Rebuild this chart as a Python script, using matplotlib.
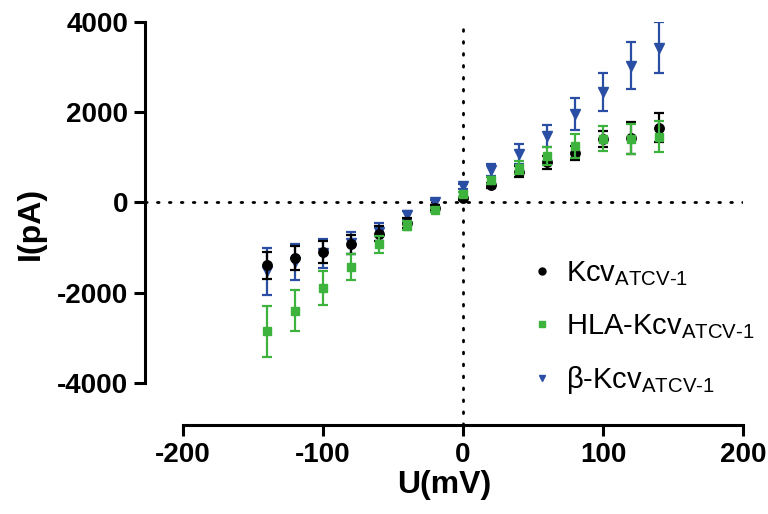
import matplotlib
matplotlib.use("Agg")
import matplotlib.pyplot as plt

plt.rcParams['font.family'] = ['Liberation Sans', 'DejaVu Sans']
plt.rcParams['mathtext.fontset'] = 'custom'
plt.rcParams['mathtext.rm'] = 'Liberation Sans'
plt.rcParams['mathtext.it'] = 'Liberation Sans:italic'
plt.rcParams['mathtext.bf'] = 'Liberation Sans:bold'

# Data
voltage = [-140, -120, -100, -80, -60, -40, -20, 0, 20, 40, 60, 80, 100, 120, 140]

kcv_mean = [-1390, -1230, -1100, -930, -690, -450, -120, 90, 380, 680, 890, 1100, 1400, 1430, 1660]
kcv_err = [300, 270, 250, 210, 160, 110, 60, 40, 60, 120, 150, 160, 180, 350, 330]

beta_mean = [-1530, -1310, -1130, -900, -650, -270, 0, 360, 720, 1070, 1470, 1960, 2450, 3030, 3430]
beta_err = [530, 400, 320, 250, 200, 90, 50, 60, 130, 220, 245, 350, 430, 520, 560]

hla_mean = [-2860, -2400, -1900, -1430, -930, -520, -170, 180, 490, 770, 1040, 1250, 1410, 1400, 1460]
hla_err = [555, 460, 370, 280, 185, 100, 50, 60, 80, 140, 200, 260, 280, 330, 350]

labels = [r'Kcv$_{\mathrm{ATCV\text{-}1}}$',
          r'HLA-Kcv$_{\mathrm{ATCV\text{-}1}}$',
          r'β-Kcv$_{\mathrm{ATCV\text{-}1}}$']

x_ticks = [-200, -100, 0, 100, 200]
y_ticks = [-4000, -2000, 0, 2000, 4000]

c_black = '#000000'
c_green = '#3db33d'
c_blue = '#2a4ea3'

fig = plt.figure(figsize=(7.68, 5.14), dpi=100)
W, H = 768, 514
ax = fig.add_axes([145 / W, (H - 425) / H, (743 - 145) / W, (425 - 22) / H])

ax.set_xlim(-227.1, 200)
ax.set_ylim(-4933, 4000)

ax.axhline(0, color='black', lw=2.0, ls=(0, (0.6, 3.7)), dash_capstyle='round', zorder=1)
ax.axvline(0, color='black', lw=2.0, ls=(0, (0.6, 3.7)), dash_capstyle='round', zorder=1)

eb_kw = dict(elinewidth=1.6, capsize=3.4, capthick=1.6, linestyle='none')
h_beta = ax.errorbar(voltage, beta_mean, yerr=beta_err, fmt='v', color=c_blue, ms=7, zorder=3, **eb_kw)
h_kcv = ax.errorbar(voltage, kcv_mean, yerr=kcv_err, fmt='o', color=c_black, ms=6.8, zorder=4, **eb_kw)
h_hla = ax.errorbar(voltage, hla_mean, yerr=hla_err, fmt='s', color=c_green, ms=6.3, zorder=5, **eb_kw)

for s in ['top', 'right']:
    ax.spines[s].set_visible(False)
for s in ['left', 'bottom']:
    ax.spines[s].set_linewidth(2.2)
ax.spines['left'].set_bounds(-4000, 4000)
ax.spines['bottom'].set_bounds(-200, 200)

ax.set_xticks(x_ticks)
ax.set_yticks(y_ticks)
ax.set_xticklabels([str(v) for v in x_ticks])
ax.set_yticklabels([str(v) for v in y_ticks])
ax.tick_params(axis='both', direction='out', length=8, width=2.2, labelsize=20, pad=4)
for t in ax.get_xticklabels() + ax.get_yticklabels():
    t.set_fontweight('bold')

ax.set_xlabel('U(mV)', fontsize=23, fontweight='bold', labelpad=2)
ax.set_ylabel('I(pA)', fontsize=23, fontweight='bold', labelpad=8)

from matplotlib.lines import Line2D
handles = [Line2D([], [], marker='o', color=c_black, ls='none', ms=5),
           Line2D([], [], marker='s', color=c_green, ls='none', ms=5),
           Line2D([], [], marker='v', color=c_blue, ls='none', ms=5)]
leg = ax.legend(handles, labels, loc='upper left', bbox_to_anchor=(527 / W, (H - 259) / H),
                bbox_transform=fig.transFigure, frameon=False, fontsize=21,
                handlelength=1.0, handletextpad=0.35, labelspacing=0.82, borderpad=0,
                borderaxespad=0)

fig.savefig('out.png', dpi=100)
